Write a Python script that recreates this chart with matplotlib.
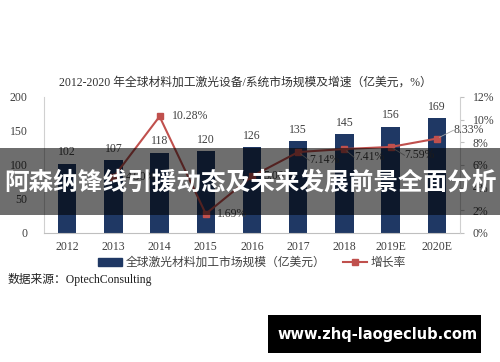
import matplotlib
matplotlib.use("Agg")
import matplotlib.pyplot as plt
from matplotlib.patches import Rectangle
from matplotlib.lines import Line2D

plt.rcParams['font.family'] = ['Liberation Serif', 'Noto Sans CJK SC']

# 数据
years = ['2012', '2013', '2014', '2015', '2016', '2017', '2018', '2019E', '2020E']
market = [102, 107, 118, 120, 126, 135, 145, 156, 169]
growth_years = years[1:]
growth = [4.90, 10.28, 1.69, 5.00, 7.14, 7.41, 7.59, 8.33]

bar_color = '#1F3864'
line_color = '#C0504D'
grey = '#404040'

fig = plt.figure(figsize=(5.0, 3.62), dpi=100)
ax = fig.add_axes([0.088, 0.3564, 0.832, 0.3757])
ax2 = ax.twinx()

x = list(range(len(years)))
ax.bar(x, market, width=0.4, color=bar_color, zorder=2)
for xi, v in zip(x, market):
    ax.text(xi, v + 8, str(v), ha='center', va='bottom', fontsize=8.5, color=grey)

ax.set_xlim(-0.5, len(years) - 0.5)
ax.set_ylim(0, 200)
ax.set_yticks([0, 50, 100, 150, 200])
ax.set_xticks(x)
ax.set_xticklabels(years)
ax.tick_params(axis='y', length=0, pad=12, labelsize=8.5, labelcolor=grey)
ax.tick_params(axis='x', length=0, pad=6, labelsize=8.5, labelcolor=grey)
for s in ['top', 'right']:
    ax.spines[s].set_visible(False)
ax.spines['left'].set_color('#D0D0D0')
ax.spines['bottom'].set_color('#BFBFBF')

gx = x[1:]
ax2.plot(gx, growth, color=line_color, lw=1.5, marker='s', markersize=4, zorder=3)
ax2.set_ylim(0, 12)
ax2.set_yticks([0, 2, 4, 6, 8, 10, 12])
ax2.set_yticklabels([f'{t}%' for t in [0, 2, 4, 6, 8, 10, 12]])
ax2.tick_params(axis='y', length=3, pad=6, labelsize=8.5, labelcolor=grey, color='#BFBFBF')
for s in ['top', 'left', 'bottom']:
    ax2.spines[s].set_visible(False)
ax2.spines['right'].set_color('#D0D0D0')

# 增长率标签
offsets = {
    '2013': (9, 0), '2014': (9, 0), '2015': (8, 0), '2016': (8, 0),
    '2017': (8, -6), '2018': (7, -6), '2019E': (10, -6), '2020E': (12, 6),
}
for yr, xi, g in zip(growth_years, gx, growth):
    dx, dy = offsets[yr]
    ax2.annotate(f'{g:.2f}%', (xi, g), xytext=(dx, dy), textcoords='offset points',
                 ha='left', va='center', fontsize=8.5, color=grey)
    if dy != 0:
        ax2.annotate('', (xi, g), xytext=(dx, dy), textcoords='offset points',
                     arrowprops=dict(arrowstyle='-', color='#A0A0A0', lw=0.6,
                                     shrinkA=0, shrinkB=2))

fig.text(0.49, 0.7707, '2012-2020 年全球材料加工激光设备/系统市场规模及增速（亿美元，%）',
         ha='center', va='center', fontsize=8.5, color='#303030')

handles = [Rectangle((0, 0), 1, 1, color=bar_color),
           Line2D([], [], color=line_color, lw=1.5, marker='s', markersize=4)]
labels = ['全球激光材料加工市场规模（亿美元）', '增长率']
fig.legend(handles, labels, loc='center', bbox_to_anchor=(0.504, 0.2735), ncol=2,
           frameon=False, fontsize=8.5, handlelength=2.0, handleheight=0.6,
           columnspacing=1.5, handletextpad=0.3, labelcolor=grey)

fig.text(0.016, 0.229, '数据来源：OptechConsulting', ha='left', va='center',
         fontsize=8.5, color='#202020')

# 横幅
fig.patches.append(Rectangle((0, 0.406), 1, 0.185, transform=fig.transFigure,
                             facecolor='black', alpha=0.57, zorder=10))
fig.text(0.5, 0.4945, '阿森纳锋线引援动态及未来发展前景全面分析', ha='center', va='center',
         fontsize=17.7, fontweight='bold', color='white',
         family=['Noto Sans CJK SC'], zorder=11)

# 水印
fig.patches.append(Rectangle((0.536, 0.0249), 0.426, 0.105, transform=fig.transFigure,
                             facecolor='black', zorder=10))
fig.text(0.756, 0.0773, 'www.zhq-laogeclub.com', ha='center', va='center',
         fontsize=10.5, fontweight='bold', color='white', family=['DejaVu Sans'], zorder=11)

fig.savefig('out.png', dpi=100)
